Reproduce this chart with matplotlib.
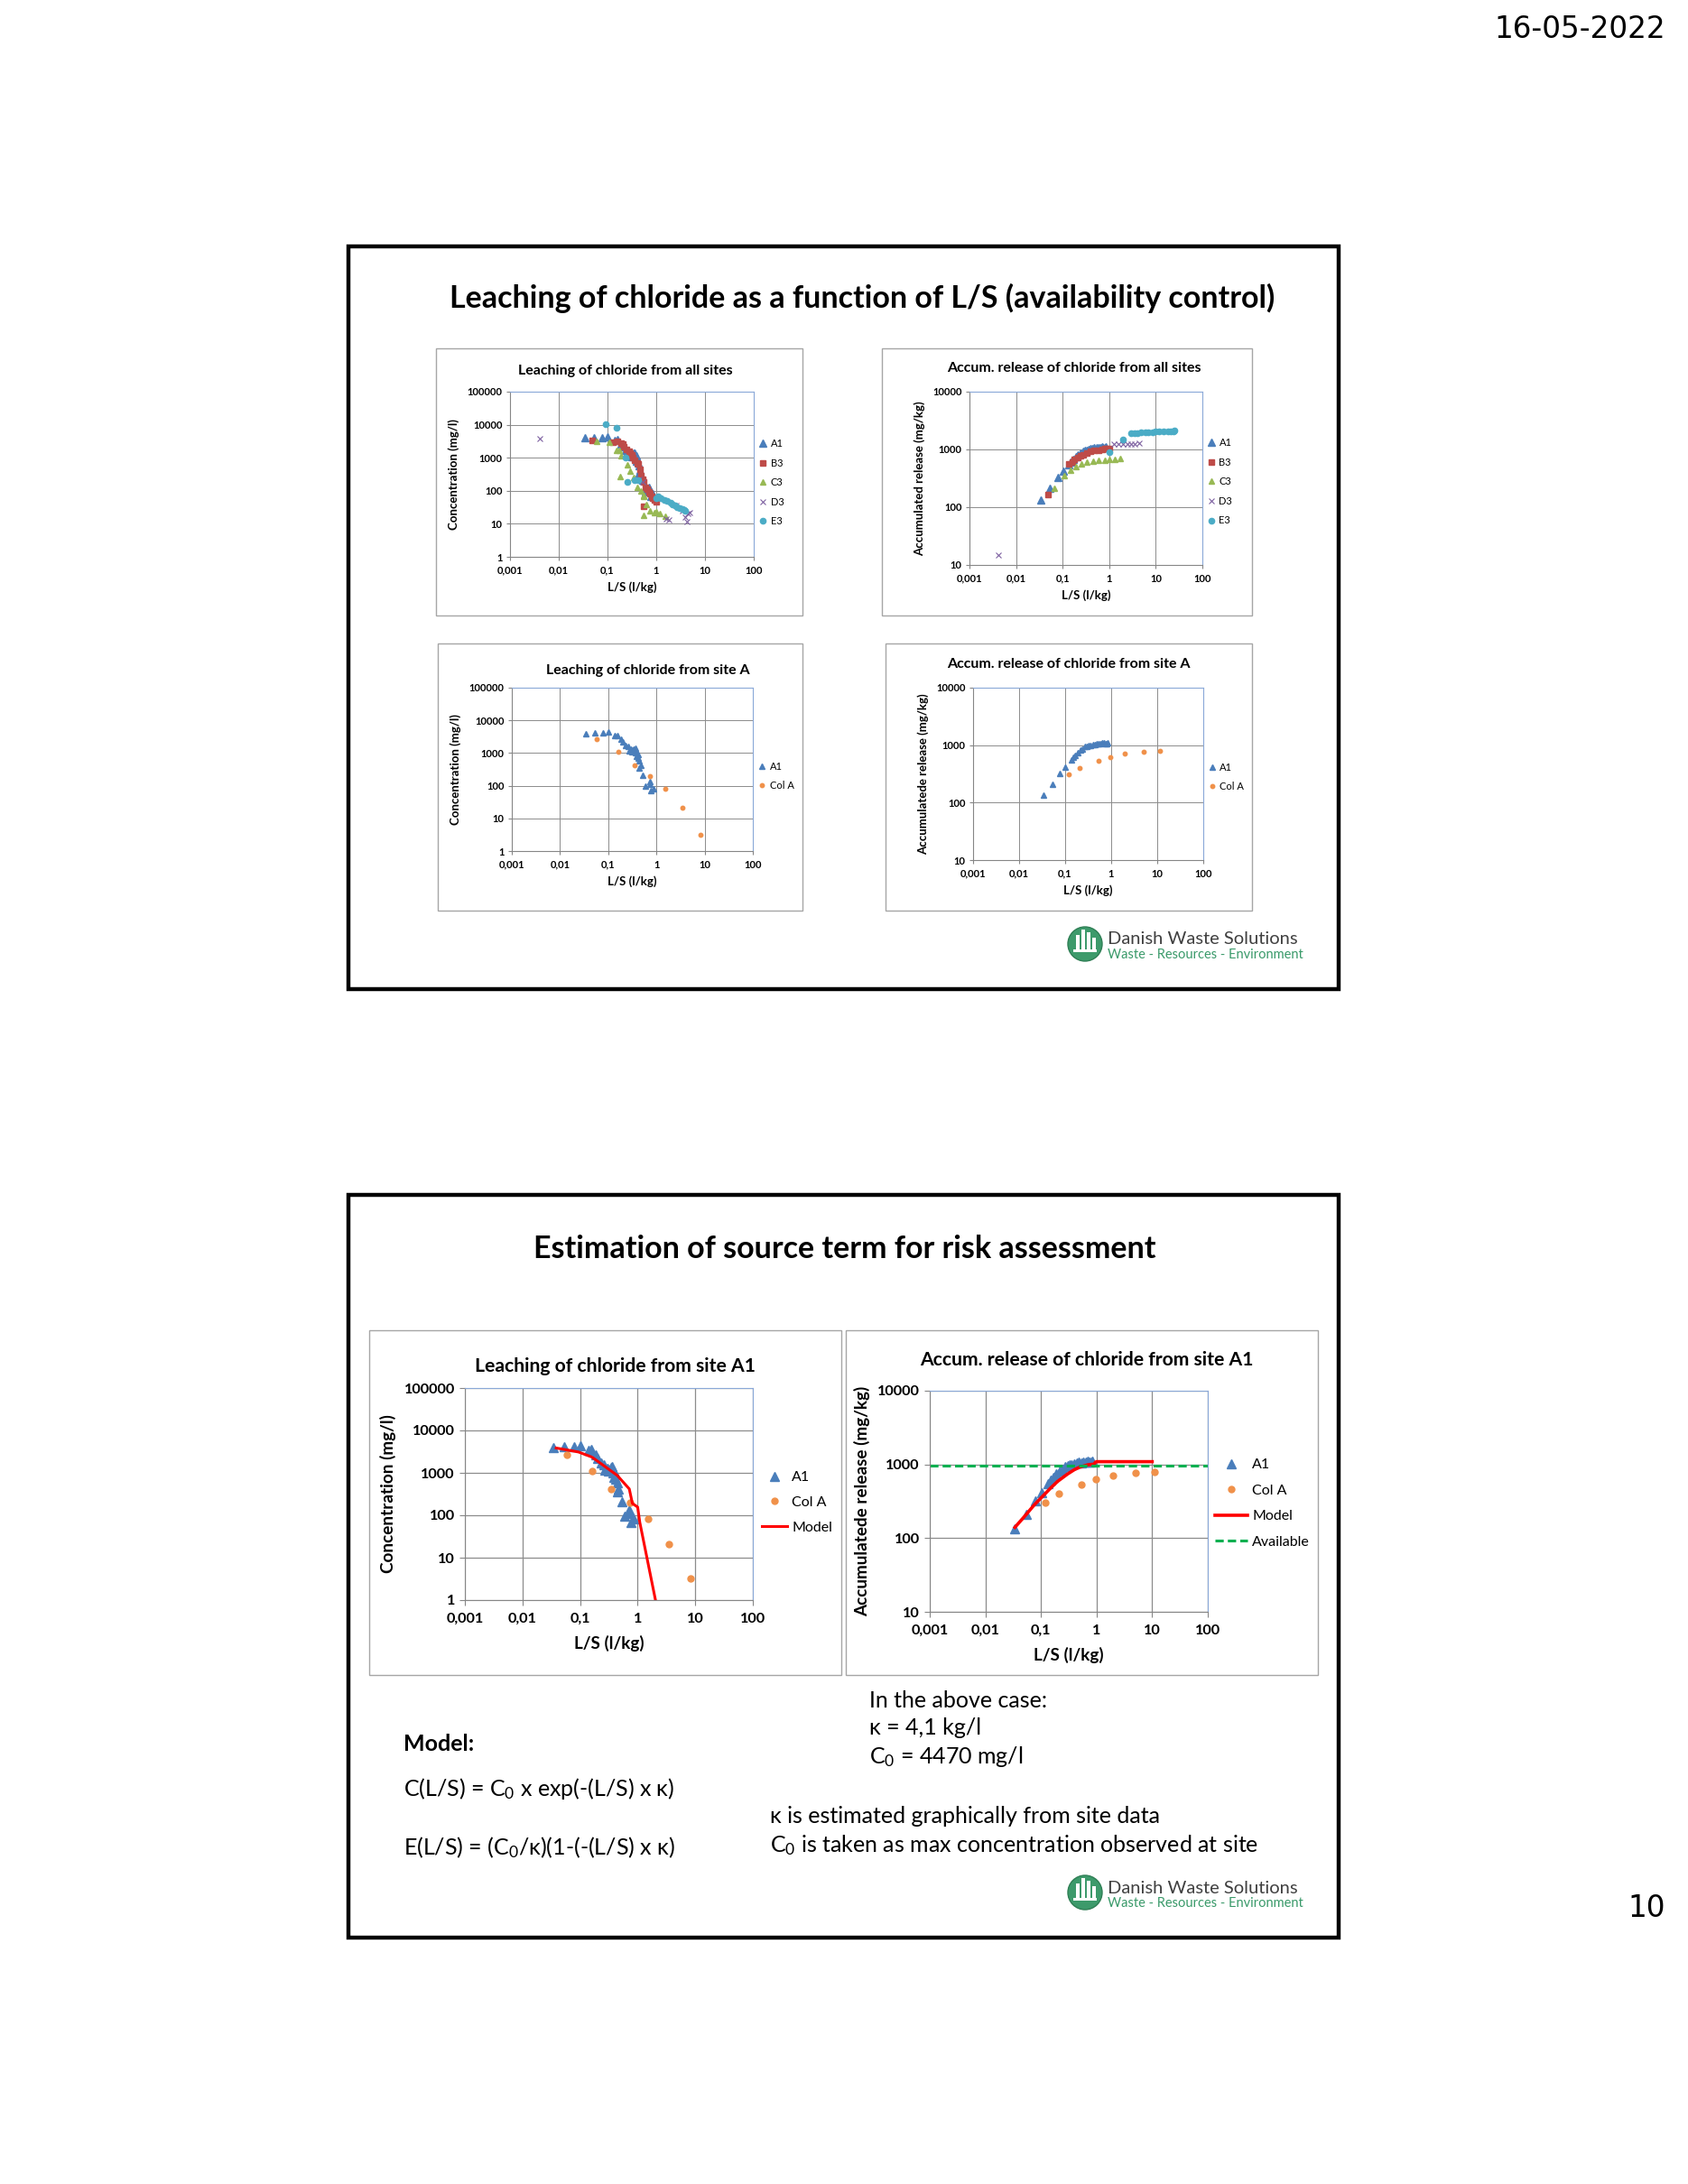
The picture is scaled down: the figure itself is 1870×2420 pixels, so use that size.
import matplotlib
matplotlib.use('Agg')
import matplotlib.pyplot as plt
from matplotlib.patches import Rectangle, Circle
from matplotlib.ticker import NullLocator

plt.rcParams['font.family'] = ['Lato', 'DejaVu Sans']
plt.rcParams['mathtext.fontset'] = 'custom'
plt.rcParams['mathtext.rm'] = 'Lato'
plt.rcParams['mathtext.it'] = 'Lato'

# ---------------- data ----------------
ls_ticks = [0.001, 0.01, 0.1, 1, 10, 100]
ls_labels = ['0,001', '0,01', '0,1', '1', '10', '100']
conc_ticks = [1, 10, 100, 1000, 10000, 100000]
acc_ticks = [10, 100, 1000, 10000]

# site A1 (batch), concentration
a1_ls = [0.034, 0.053, 0.079, 0.10, 0.138, 0.157, 0.188, 0.205, 0.23, 0.26, 0.27, 0.28,
         0.30, 0.31, 0.33, 0.34, 0.36, 0.37, 0.39, 0.39, 0.41, 0.42, 0.44, 0.44, 0.47,
         0.53, 0.60, 0.72, 0.72, 0.76, 0.86]
a1_conc = [3980, 4170, 4170, 4370, 3430, 3540, 2630, 2160, 1690, 1560, 1160, 1250,
           1300, 1100, 1220, 1350, 1430, 1000, 1120, 800, 900, 700, 580, 355, 415,
           210, 95, 112, 131, 69, 83]
# site A1, accumulated release
a1_acc_ls = [0.034, 0.054, 0.078, 0.102, 0.135, 0.148, 0.167, 0.19, 0.215, 0.24, 0.275,
             0.30, 0.33, 0.36, 0.40, 0.44, 0.48, 0.53, 0.58, 0.64, 0.70, 0.75, 0.80, 0.85]
a1_acc = [135, 212, 325, 418, 550, 610, 670, 740, 810, 869, 938, 960, 978, 1000, 1020,
          1040, 1070, 1060, 1070, 1090, 1100, 1080, 1070, 1100]

# column test, site A
cola_ls = [0.058, 0.16, 0.347, 0.73, 1.51, 3.5, 8.2]
cola_conc = [2630, 1100, 415, 200, 81, 21, 3.2]
cola_acc_ls = [0.119, 0.209, 0.53, 0.955, 2.0, 5.1, 11.2]
cola_acc = [306, 405, 537, 626, 706, 763, 797]

# other sites, concentration
b3_ls = [0.048, 0.13, 0.16, 0.19, 0.205, 0.22, 0.25, 0.28, 0.295, 0.31, 0.33, 0.36, 0.40,
         0.42, 0.46, 0.49, 0.53, 0.56, 0.60, 0.65, 0.70, 0.75, 0.81, 0.86, 0.92, 1.0, 0.56]
b3_conc = [3300, 3000, 3100, 2700, 2590, 2200, 1800, 1600, 1380, 1200, 1000, 850, 700,
           660, 450, 290, 220, 180, 126, 110, 95, 80, 68, 60, 52, 47, 34]
c3_ls = [0.06, 0.107, 0.154, 0.175, 0.19, 0.178, 0.26, 0.295, 0.34, 0.41, 0.49, 0.55,
         0.56, 0.63, 0.75, 0.9, 1.0, 1.2, 1.55, 0.56]
c3_conc = [3180, 2900, 1700, 1660, 1170, 265, 600, 400, 260, 130, 100, 71, 68, 38, 25,
           22, 23, 20, 17, 18]
d3_ls = [0.0041, 0.45, 0.52, 1.6, 1.8, 2.6, 3.5, 3.9, 4.2, 4.5, 4.9]
d3_conc = [3800, 220, 180, 14, 13, 37, 25, 16, 12, 20, 22]
e3_ls = [0.092, 0.154, 0.237, 0.26, 0.36, 0.42, 1.0, 1.1, 1.25, 1.45, 1.7, 1.95, 2.2,
         2.4, 2.7, 3.0, 3.4, 3.7, 3.9]
e3_conc = [10300, 8000, 1000, 190, 215, 210, 60, 66, 58, 54, 48, 43, 38, 35, 32, 30,
           28, 27, 25]

# other sites, accumulated release
b3_acc_ls = [0.048, 0.135, 0.16, 0.18, 0.21, 0.24, 0.28, 0.33, 0.4, 0.47, 0.59, 0.7,
             0.8, 0.9, 1.0]
b3_acc = [163, 560, 600, 680, 720, 770, 820, 870, 920, 950, 980, 1000, 1020, 1040, 1050]
c3_acc_ls = [0.066, 0.11, 0.15, 0.19, 0.25, 0.33, 0.45, 0.6, 0.8, 1.0, 1.3, 1.7]
c3_acc = [210, 350, 440, 500, 560, 600, 630, 650, 660, 670, 680, 690]
d3_acc_ls = [0.0041, 1.25, 1.6, 1.95, 2.5, 3.0, 3.5, 4.4]
d3_acc = [15, 1240, 1240, 1240, 1250, 1260, 1260, 1270]
e3_acc_ls = [1.0, 2.0, 3.0, 3.5, 4.0, 4.8, 6.0, 7.0, 8.5, 10, 12, 15, 18, 21, 23.7, 25]
e3_acc = [910, 1470, 1880, 1900, 1920, 1950, 1970, 1980, 2000, 2020, 2030, 2040, 2060,
          2070, 2080, 2100]

# model curves (as drawn)
model_c_ls = [0.0385, 0.094, 0.161, 0.44, 0.716, 0.81, 1.0, 1.09, 2.04]
model_c = [3850, 3100, 2350, 875, 418, 190, 156, 68, 1]
model_e_ls = [0.034, 0.05, 0.075, 0.1, 0.15, 0.2, 0.3, 0.4, 0.5, 0.7, 0.9, 0.95, 1.0,
              2.0, 5.0, 10.0]
model_e = [140, 195, 280, 350, 480, 590, 740, 850, 920, 990, 1010, 1070, 1090, 1090,
           1090, 1090]
avail_ls = [0.001, 100]
avail = [960, 960]

C_A1 = '#4a7ebb'
C_B3 = '#be4b48'
C_C3 = '#98b954'
C_D3 = '#7d60a0'
C_E3 = '#4bacc6'
C_COL = '#f0914a'

W, H = 1870, 2420
fig = plt.figure(figsize=(W / 100, H / 100), dpi=100)


def fbox(x0, y0, x1, y1):
    return [x0 / W, 1 - y1 / H, (x1 - x0) / W, (y1 - y0) / H]


bg = fig.add_axes([0, 0, 1, 1], zorder=0)
bg.set_xlim(0, W)
bg.set_ylim(H, 0)
bg.axis('off')


def chart(frame, plot, title, title_xy, ylabel, ylim, yticks, big):
    x0, y0, x1, y1 = frame
    bg.add_patch(Rectangle((x0, y0), x1 - x0, y1 - y0, fc='white', ec='#a6a6a6', lw=1))
    fs_tick, fs_lab, fs_tit = (11.7, 13.6, 15.2) if big else (8, 9.5, 11.5)
    ax = fig.add_axes(fbox(*plot), zorder=2)
    ax.set_xscale('log')
    ax.set_yscale('log')
    ax.set_xlim(0.001, 100)
    ax.set_ylim(*ylim)
    ax.set_xticks(ls_ticks)
    ax.set_xticklabels(ls_labels, fontweight='bold', fontsize=fs_tick)
    ax.set_yticks(yticks)
    ax.set_yticklabels([str(v) for v in yticks], fontweight='bold', fontsize=fs_tick)
    ax.xaxis.set_minor_locator(NullLocator())
    ax.yaxis.set_minor_locator(NullLocator())
    ax.tick_params(direction='out', length=4 if big else 3, width=0.8, color='#868686')
    ax.tick_params(axis='x', pad=6 if big else 4)
    ax.tick_params(axis='y', pad=4 if big else 3)
    ax.grid(True, color='#8c8c8c', lw=0.9 if big else 0.7)
    ax.set_axisbelow(True)
    for s in ['left', 'bottom']:
        ax.spines[s].set_color('#868686')
    for s in ['top', 'right']:
        ax.spines[s].set_color('#8aa8d8')
    ax.set_xlabel('L/S (l/kg)', fontweight='bold', fontsize=fs_lab,
                  labelpad=8 if big else 5)
    ax.set_ylabel(ylabel, fontweight='bold', fontsize=fs_lab, labelpad=6)
    bg.text(title_xy[0], title_xy[1], title, ha='center', va='center',
            fontsize=fs_tit, fontweight='bold')
    return ax


def legend(ax, anchor, fs, spacing, hl=0.9):
    ax.legend(loc='center left', bbox_to_anchor=anchor, frameon=False, fontsize=fs,
              labelspacing=spacing, handlelength=hl, handletextpad=0.3, borderpad=0,
              borderaxespad=0)


def logo(cx, cy):
    bg.add_patch(Circle((cx, cy), 19, fc='#3d9a6b', ec='#2f7f55', lw=1))
    for dx, h in [(-10, 16), (-4, 22), (2, 19), (8, 13)]:
        bg.add_patch(Rectangle((cx + dx, cy + 6 - h), 4, h, fc='white', ec='none'))
    bg.add_patch(Rectangle((cx - 13, cy + 6), 26, 3, fc='white', ec='none'))
    bg.text(cx + 25, cy - 5, 'Danish Waste Solutions', fontsize=14.5, color='#404040',
            va='center', ha='left')
    bg.text(cx + 25, cy + 12, 'Waste - Resources - Environment', fontsize=10.5,
            color='#3a9a6a', va='center', ha='left')


# ---------------- page furniture ----------------
bg.text(1845, 32, '16-05-2022', fontsize=23.5, ha='right', va='center',
        family='DejaVu Sans')
bg.text(1845, 2114, '10', fontsize=23.5, ha='right', va='center', family='DejaVu Sans')

for top in [273, 1324]:
    bg.add_patch(Rectangle((386, top), 1483 - 386, 823, fc='none', ec='black', lw=3.2))

bg.text(955, 330, 'Leaching of chloride as a function of L/S (availability control)',
        fontsize=24.5, fontweight='bold', ha='center', va='center')
bg.text(936, 1384, 'Estimation of source term for risk assessment',
        fontsize=24.5, fontweight='bold', ha='center', va='center')
logo(1202, 1046)
logo(1202, 2097)

# ---------------- slide 1 ----------------
ax = chart((483, 386, 889, 682), (565, 434, 835, 617), 'Leaching of chloride from all sites',
           (693, 411), 'Concentration (mg/l)', (1, 100000), conc_ticks, False)
ax.plot(a1_ls, a1_conc, ls='none', marker='^', ms=5.5, color=C_A1, label='A1')
ax.plot(b3_ls, b3_conc, ls='none', marker='s', ms=4.5, color=C_B3, label='B3')
ax.plot(c3_ls, c3_conc, ls='none', marker='^', ms=4.5, color=C_C3, label='C3')
ax.plot(d3_ls, d3_conc, ls='none', marker='x', ms=4.5, mew=0.8, color=C_D3, label='D3')
ax.plot(e3_ls, e3_conc, ls='none', marker='o', ms=4.5, color=C_E3, label='E3')
legend(ax, (1.02, 0.45), 8, 0.95)

ax = chart((977, 386, 1387, 682), (1074, 434, 1332, 626),
           'Accum. release of chloride from all sites', (1190, 408),
           'Accumulated release (mg/kg)', (10, 10000), acc_ticks, False)
ax.plot(a1_acc_ls, a1_acc, ls='none', marker='^', ms=5.5, color=C_A1, label='A1')
ax.plot(b3_acc_ls, b3_acc, ls='none', marker='s', ms=4.5, color=C_B3, label='B3')
ax.plot(c3_acc_ls, c3_acc, ls='none', marker='^', ms=4.5, color=C_C3, label='C3')
ax.plot(d3_acc_ls, d3_acc, ls='none', marker='x', ms=4.5, mew=0.8, color=C_D3, label='D3')
ax.plot(e3_acc_ls, e3_acc, ls='none', marker='o', ms=4.5, color=C_E3, label='E3')
legend(ax, (1.02, 0.48), 8, 0.95)

ax = chart((485, 713, 889, 1009), (567, 762, 834, 943), 'Leaching of chloride from site A',
           (718, 743), 'Concentration (mg/l)', (1, 100000), conc_ticks, False)
ax.plot(a1_ls, a1_conc, ls='none', marker='^', ms=4.5, color=C_A1, label='A1')
ax.plot(cola_ls, cola_conc, ls='none', marker='o', ms=3.2, color=C_COL, label='Col A')
legend(ax, (1.02, 0.46), 8, 0.9)

ax = chart((981, 713, 1387, 1009), (1078, 762, 1333, 953),
           'Accum. release of chloride from site A', (1184, 736),
           'Accumulatede release (mg/kg)', (10, 10000), acc_ticks, False)
ax.plot(a1_acc_ls, a1_acc, ls='none', marker='^', ms=4.5, color=C_A1, label='A1')
ax.plot(cola_acc_ls, cola_acc, ls='none', marker='o', ms=3.2, color=C_COL, label='Col A')
legend(ax, (1.02, 0.48), 8, 0.9)

# ---------------- slide 2 ----------------
ax = chart((409, 1474, 932, 1856), (515, 1538, 834, 1773),
           'Leaching of chloride from site A1', (682, 1514), 'Concentration (mg/l)',
           (1, 100000), conc_ticks, True)
ax.plot(a1_ls, a1_conc, ls='none', marker='^', ms=7, color=C_A1, label='A1')
ax.plot(cola_ls, cola_conc, ls='none', marker='o', ms=5, color=C_COL, label='Col A')
ax.plot(model_c_ls, model_c, color='red', lw=2.2, label='Model')
legend(ax, (1.03, 0.46), 11.5, 0.85, hl=1.8)

ax = chart((937, 1474, 1460, 1856), (1030, 1541, 1338, 1786),
           'Accum. release of chloride from site A1', (1204, 1507),
           'Accumulatede release (mg/kg)', (10, 10000), acc_ticks, True)
ax.plot(a1_acc_ls, a1_acc, ls='none', marker='^', ms=7, color=C_A1, label='A1')
ax.plot(cola_acc_ls, cola_acc, ls='none', marker='o', ms=5, color=C_COL, label='Col A')
ax.plot(model_e_ls, model_e, color='red', lw=2.6, label='Model')
ax.plot(avail_ls, avail, color='#00b050', lw=2.2, ls=(0, (3, 1.5)), label='Available')
legend(ax, (1.025, 0.49), 11.5, 0.9, hl=2.3)

# ---------------- model text ----------------
tkw = dict(fontsize=18, va='center', ha='left', color='black')
bg.text(963, 1885, 'In the above case:', **tkw)
bg.text(963, 1915, 'κ = 4,1 kg/l', **tkw)
bg.text(963, 1947, 'C$_0$ = 4470 mg/l', **tkw)
bg.text(447, 1932, 'Model:', fontsize=18, fontweight='bold', va='center', ha='left')
bg.text(447, 1982, 'C(L/S) = C$_0$ x exp(-(L/S) x κ)', **tkw)
bg.text(447, 2047, 'E(L/S) = (C$_0$/κ)(1-(-(L/S) x κ)', **tkw)
bg.text(853, 2013, 'κ is estimated graphically from site data', **tkw)
bg.text(853, 2045, 'C$_0$ is taken as max concentration observed at site', **tkw)

fig.savefig('out.png', dpi=100, facecolor='white')
